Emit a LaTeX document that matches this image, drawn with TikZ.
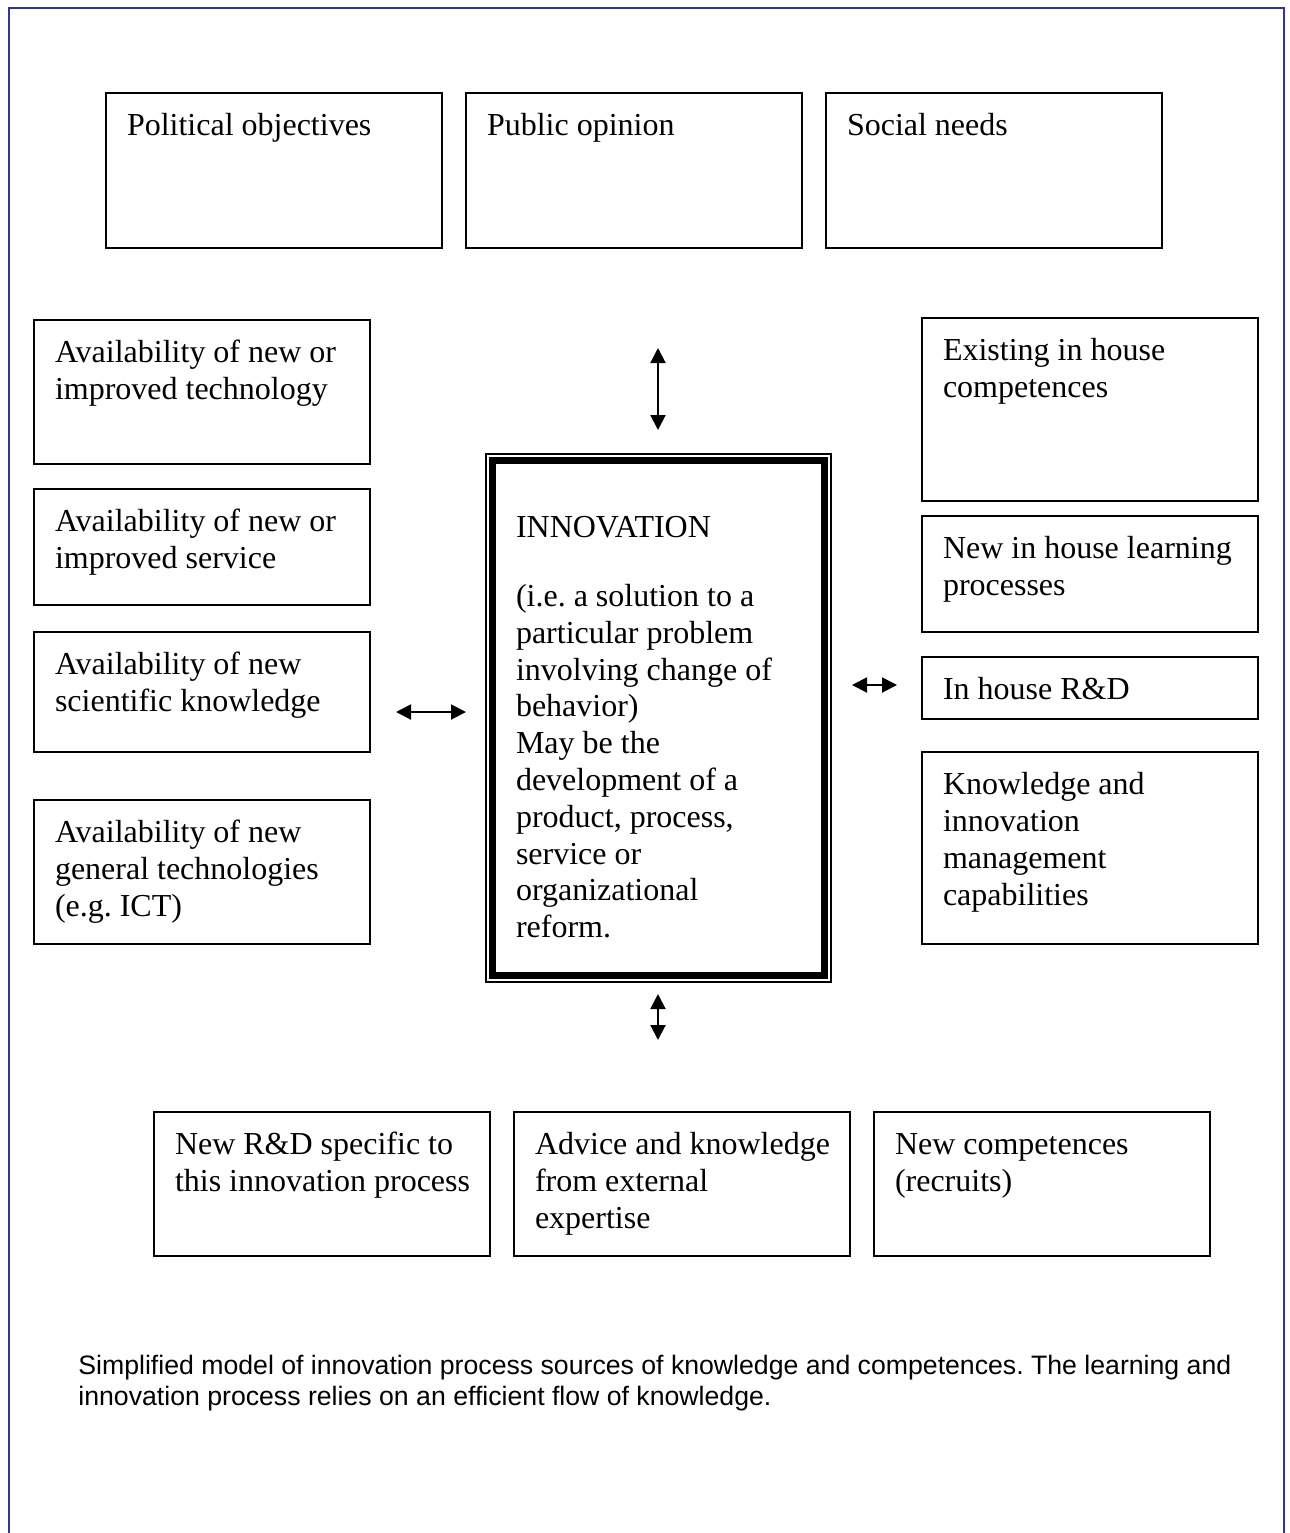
\documentclass[tikz,border=0pt]{standalone}
\usepackage{fontspec}
\setmainfont{Liberation Serif}
\newfontfamily\capfont{Liberation Sans}
\usetikzlibrary{arrows.meta}
\frenchspacing

\definecolor{framecol}{RGB}{51,51,153}

% text block inside a factor box: #1 height, #2 text
\newcommand{\ftext}[2]{\hspace*{10.5pt}\parbox[t][#1][t]{157.5pt}{\raggedright\rule{0pt}{13.9pt}#2}}

\tikzset{
  factor/.style={draw, line width=1pt, anchor=north west, outer sep=0pt,
    inner xsep=0pt, inner ysep=7.5pt, font=\fontsize{16pt}{18.4pt}\selectfont},
  core/.style={draw, line width=3.5pt, anchor=north west, outer sep=0pt,
    inner sep=0pt, font=\fontsize{16pt}{18.4pt}\selectfont},
  link/.style={{Triangle[width=7.5pt,length=7.5pt]}-{Triangle[width=7.5pt,length=7.5pt]}, line width=1pt},
  caption/.style={anchor=north west, inner sep=0pt, align=left,
    font=\capfont\fontsize{13.33pt}{15.33pt}\selectfont}
}

\begin{document}
\begin{tikzpicture}[x=0.5pt,y=-0.5pt]
  \useasboundingbox (0,0) rectangle (1290,1533);
  \draw[framecol, line width=1pt] (8.5,1533) -- (8.5,7.5) -- (1283.5,7.5) -- (1283.5,1533);

  % context row
  \node[factor] (pol) at (106,93) {\ftext{62.5pt}{Political objectives}};
  \node[factor] (pub) at (466,93) {\ftext{62.5pt}{Public opinion}};
  \node[factor] (soc) at (826,93) {\ftext{62.5pt}{Social needs}};

  % external sources
  \node[factor] (tech) at (34,320) {\ftext{57pt}{Availability of new or\\ improved technology}};
  \node[factor] (serv) at (34,489) {\ftext{43pt}{Availability of new or\\ improved service}};
  \node[factor] (sci) at (34,632) {\ftext{45pt}{Availability of new\\ scientific knowledge}};
  \node[factor] (gen) at (34,800) {\ftext{57pt}{Availability of new\\ general technologies\\ (e.g. ICT)}};

  % in house sources
  \node[factor] (comp) at (922,318) {\ftext{76.5pt}{Existing in house\\ competences}};
  \node[factor] (learn) at (922,516) {\ftext{43pt}{New in house learning\\ processes}};
  \node[factor] (rd) at (922,657) {\ftext{16pt}{In house R\&D}};
  \node[factor] (mgmt) at (922,752) {\ftext{81pt}{Knowledge and\\ innovation\\ management\\ capabilities}};

  % new inputs
  \node[factor] (newrd) at (154,1112) {\ftext{57pt}{New R\&D specific to\\ this innovation process}};
  \node[factor] (adv) at (514,1112) {\ftext{57pt}{Advice and knowledge\\ from external\\ expertise}};
  \node[factor] (recr) at (874,1112) {\ftext{57pt}{New competences\\ (recruits)}};

  % innovation
  \node[core] (innov) at (492.5,460) {\hspace*{11.75pt}\parbox[t][257.75pt][t]{154.25pt}{\raggedright
    \vspace*{26pt}\strut INNOVATION\\[16pt]
    (i.e. a solution to a\\ particular problem\\ involving change of\\ behavior)\\
    May be the\\ development of a\\ product, process,\\ service or\\ organizational\\ reform.}};
  \draw[line width=1pt] ([shift={(-3.25pt,3.25pt)}]innov.north west) rectangle ([shift={(3.25pt,-3.25pt)}]innov.south east);

  % flows
  \coordinate (ctxA) at (658,348);
  \coordinate (ctxB) at (658,430);
  \coordinate (extA) at (396,712);
  \coordinate (extB) at (466,712);
  \coordinate (intA) at (852,685);
  \coordinate (intB) at (897,685);
  \coordinate (newA) at (658,994);
  \coordinate (newB) at (658,1040);
  \draw[link] (ctxA) -- (ctxB);
  \draw[link] (extA) -- (extB);
  \draw[link] (intA) -- (intB);
  \draw[link] (newA) -- (newB);

  \node[caption] (cap) at (78,1355) {Simplified model of innovation process sources of knowledge and competences. The learning and\\
    innovation process relies on an efficient flow of knowledge.};
\end{tikzpicture}
\end{document}
